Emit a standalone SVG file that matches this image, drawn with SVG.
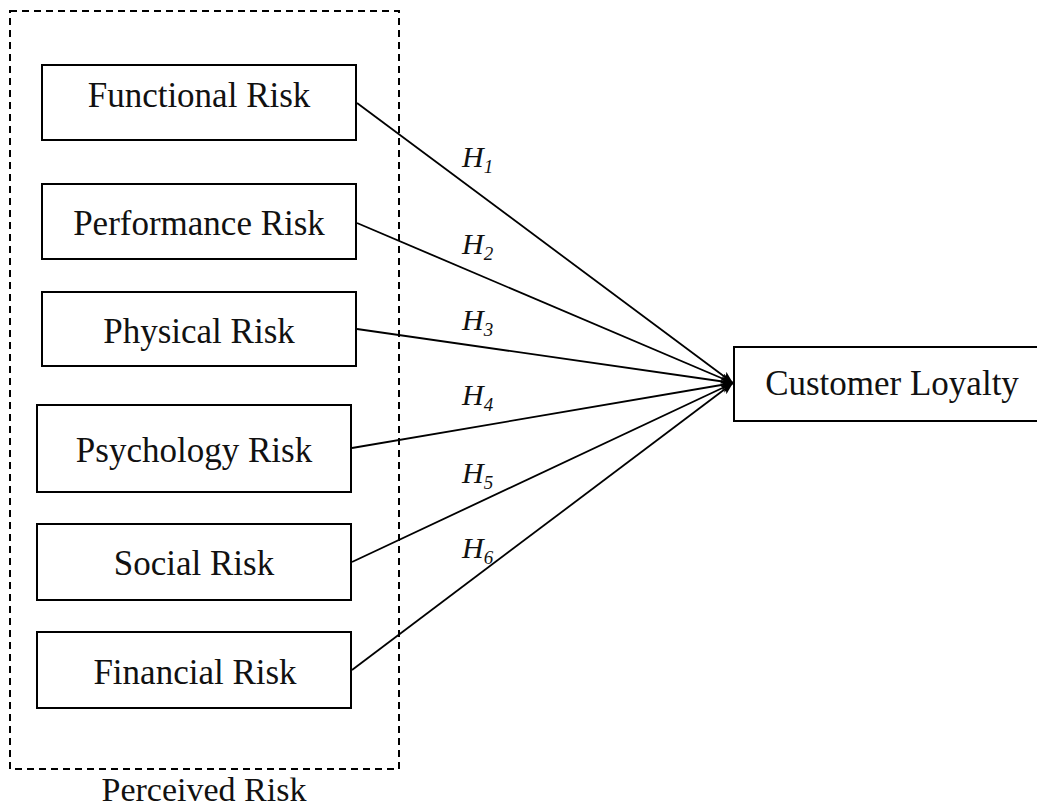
<svg xmlns="http://www.w3.org/2000/svg" width="1037" height="809" viewBox="0 0 1037 809">
<style>
.box{fill:#fff;stroke:#000;stroke-width:2}
.t{font-family:"Liberation Serif",serif;font-size:35px;fill:#111;text-anchor:middle}
.h{font-family:"Liberation Serif",serif;font-style:italic;font-size:30px;fill:#111}
.s{font-size:19px}
.c{stroke:#000;stroke-width:1.8;fill:none;marker-end:url(#ah)}
</style>
<defs>
<marker id="ah" viewBox="0 0 12 10" refX="12" refY="5" markerWidth="12" markerHeight="10" markerUnits="userSpaceOnUse" orient="auto">
<path d="M0,0 L12,5 L0,10 L3,5 Z" fill="#000"/>
</marker>
</defs>
<rect width="1037" height="809" fill="#fff"/>
<g id="perceived-risk">
<rect x="10" y="11" width="389" height="758" fill="none" stroke="#000" stroke-width="2" stroke-dasharray="7,5"/>
<text class="t" x="204" y="801" style="font-size:34px">Perceived Risk</text>
</g>
<g id="functional">
<rect class="box" x="42" y="65" width="314" height="75"/>
<text class="t" x="199" y="107">Functional Risk</text>
</g>
<g id="performance">
<rect class="box" x="42" y="184" width="314" height="75"/>
<text class="t" x="199" y="235">Performance Risk</text>
</g>
<g id="physical">
<rect class="box" x="42" y="292" width="314" height="74"/>
<text class="t" x="199" y="343">Physical Risk</text>
</g>
<g id="psychology">
<rect class="box" x="37" y="405" width="314" height="87"/>
<text class="t" x="194" y="462">Psychology Risk</text>
</g>
<g id="social">
<rect class="box" x="37" y="524" width="314" height="76"/>
<text class="t" x="194" y="575">Social Risk</text>
</g>
<g id="financial">
<rect class="box" x="37" y="632" width="314" height="76"/>
<text class="t" x="195" y="684">Financial Risk</text>
</g>
<g id="loyalty">
<rect class="box" x="734" y="347" width="320" height="74"/>
<text class="t" x="892" y="395">Customer Loyalty</text>
</g>
<g id="connectors">
<line class="c" x1="357" y1="103" x2="733" y2="383"/>
<line class="c" x1="357" y1="223" x2="733" y2="383"/>
<line class="c" x1="357" y1="329" x2="733" y2="383"/>
<line class="c" x1="352" y1="448" x2="733" y2="383"/>
<line class="c" x1="352" y1="562" x2="733" y2="383"/>
<line class="c" x1="352" y1="670" x2="733" y2="383"/>
</g>
<g id="labels">
<text class="h" x="462" y="167">H<tspan class="s" dy="6">1</tspan></text>
<text class="h" x="462" y="254">H<tspan class="s" dy="6">2</tspan></text>
<text class="h" x="462" y="330">H<tspan class="s" dy="6">3</tspan></text>
<text class="h" x="462" y="405">H<tspan class="s" dy="6">4</tspan></text>
<text class="h" x="462" y="483">H<tspan class="s" dy="6">5</tspan></text>
<text class="h" x="462" y="558">H<tspan class="s" dy="6">6</tspan></text>
</g>
</svg>
